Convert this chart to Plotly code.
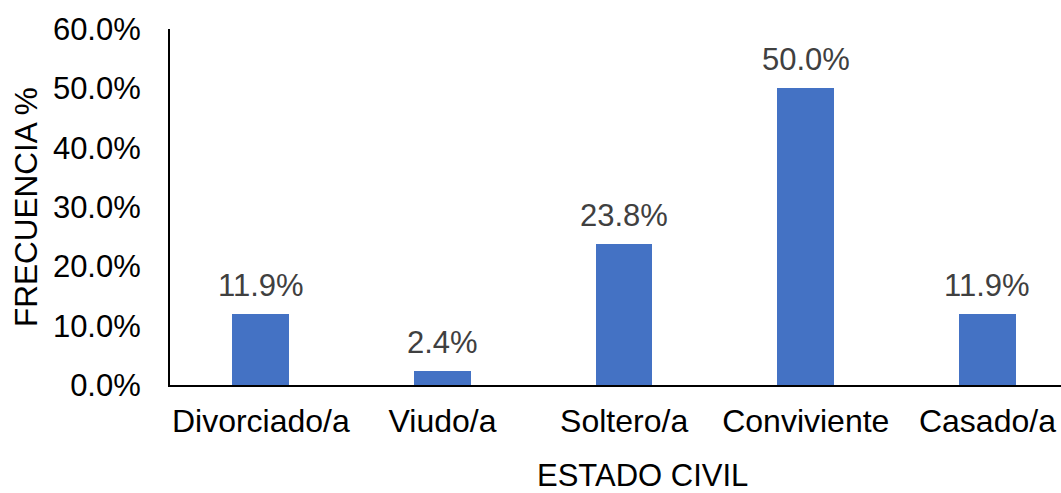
import plotly.graph_objects as go

categories = ["Divorciado/a", "Viudo/a", "Soltero/a", "Conviviente", "Casado/a"]
values = [0.119, 0.024, 0.238, 0.500, 0.119]
labels = ["11.9%", "2.4%", "23.8%", "50.0%", "11.9%"]
y_ticks = [0, 0.1, 0.2, 0.3, 0.4, 0.5, 0.6]
y_tick_text = ["0.0%", "10.0%", "20.0%", "30.0%", "40.0%", "50.0%", "60.0%"]
x_title = "ESTADO CIVIL"
y_title = "FRECUENCIA %"

font_family = "Liberation Sans, Arial, sans-serif"
xs = list(range(len(categories)))

fig = go.Figure(go.Bar(
    x=xs,
    y=values,
    width=0.312,
    marker=dict(color="#4472C4", line=dict(width=0)),
    cliponaxis=False,
))

for xi, v, lab in zip(xs, values, labels):
    fig.add_annotation(
        x=xi, y=v, text=lab, showarrow=False,
        xanchor="center", yanchor="bottom", yshift=9,
        font=dict(family=font_family, size=31, color="#404040"),
    )

# axis titles
fig.add_annotation(
    xref="paper", yref="paper", x=0.530, y=-0.255,
    text=x_title, showarrow=False, xanchor="center", yanchor="middle",
    font=dict(family=font_family, size=31, color="black"),
)
fig.add_annotation(
    xref="paper", yref="paper", x=-0.1616, y=0.5,
    text=y_title, showarrow=False, xanchor="center", yanchor="middle",
    textangle=-90,
    font=dict(family=font_family, size=31.5, color="black"),
)

fig.update_layout(
    width=1061, height=493,
    margin=dict(l=170, r=0, t=29, b=108),
    paper_bgcolor="white", plot_bgcolor="white",
    showlegend=False,
    bargap=0,
    font=dict(family=font_family, size=30, color="black"),
)

fig.update_xaxes(
    range=[-0.5, 4.405],
    tickvals=xs,
    ticktext=categories,
    tickfont=dict(family=font_family, size=32, color="black"),
    showline=True, linecolor="black", linewidth=2,
    ticks="", showgrid=False, zeroline=False,
    automargin=False,
    ticklabelstandoff=7,
)

fig.update_yaxes(
    range=[0, 0.6],
    tickvals=y_ticks,
    ticktext=y_tick_text,
    tickfont=dict(family=font_family, size=31, color="black"),
    showline=True, linecolor="black", linewidth=2,
    ticks="", showgrid=False, zeroline=False,
    automargin=False,
    ticklabelstandoff=21,
)

fig.write_html(
    "out.html",
    config={"displayModeBar": False},
    post_script="document.body.style.margin='0';document.body.style.overflow='hidden';",
)
